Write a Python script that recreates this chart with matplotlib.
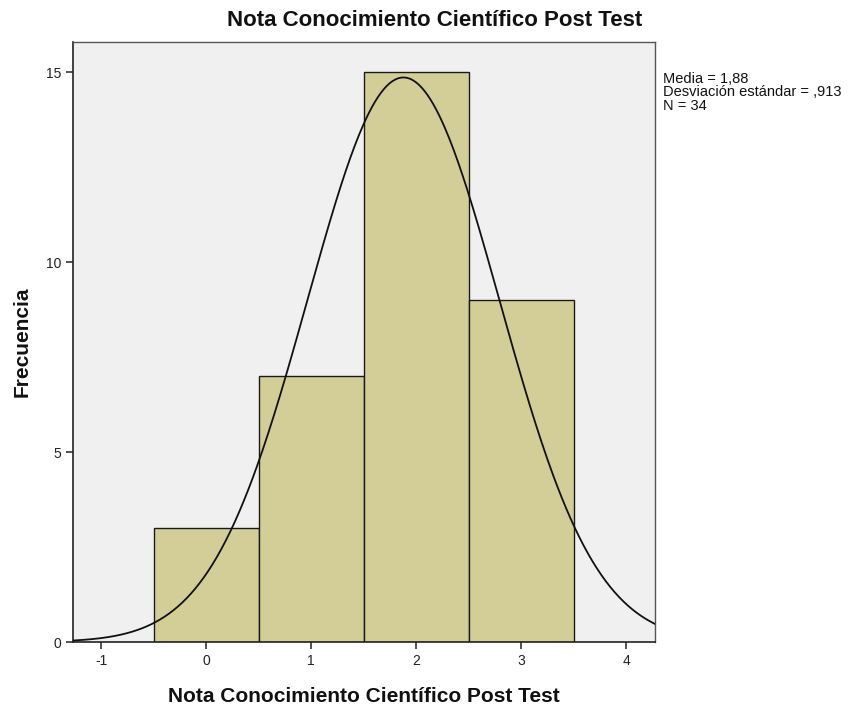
import numpy as np
import matplotlib
matplotlib.use("Agg")
import matplotlib.pyplot as plt

plt.rcParams['font.family'] = ['Liberation Sans', 'DejaVu Sans']
plt.rcParams['axes.unicode_minus'] = False

values = [0, 1, 2, 3]
counts = [3, 7, 15, 9]
mean = 1.88
std = 0.913
n = 34
title = "Nota Conocimiento Científico Post Test"
xlabel = "Nota Conocimiento Científico Post Test"
ylabel = "Frecuencia"
xticks = [-1, 0, 1, 2, 3, 4]
yticks = [0, 5, 10, 15]

fig = plt.figure(figsize=(8.57, 7.10), dpi=100)
ax = fig.add_axes([73/857, 1-642/710, (655-73)/857, (642-42)/710])
ax.set_facecolor('#F0F0F0')

ax.bar(values, counts, width=1.0, color='#D3CE98', edgecolor='#1a1a1a', linewidth=1.0, zorder=2)

xs = np.linspace(-1.27, 4.28, 400)
ys = n * 1.0 * np.exp(-0.5 * ((xs - mean) / std) ** 2) / (std * np.sqrt(2 * np.pi))
ax.plot(xs, ys, color='#111111', linewidth=1.3, zorder=3)

ax.set_xlim(-1.267, 4.276)
ax.set_ylim(0, 15.79)
ax.set_xticks(xticks)
ax.set_yticks(yticks)
ax.tick_params(direction='out', length=5, width=1.2, colors='#333333', labelsize=10, labelcolor='#222222')
for s in ['left', 'bottom']:
    ax.spines[s].set_color('#222222')
    ax.spines[s].set_linewidth(1.2)
for s in ['top', 'right']:
    ax.spines[s].set_color('#555555')
    ax.spines[s].set_linewidth(1.0)

fig.text(435/857, 1-20/710, title, ha='center', va='center', fontsize=16, fontweight='bold', color='#111111')
ax.set_xlabel(xlabel, fontsize=15, fontweight='bold', color='#111111', labelpad=14)
ax.set_ylabel(ylabel, fontsize=15, fontweight='bold', color='#111111', labelpad=10)

fig.text(663/857, 1-72/710, f"Media = 1,88\nDesviación estándar = ,913\nN = {n}",
         ha='left', va='top', fontsize=10.5, color='#111111', linespacing=0.95)

fig.savefig('out.png', dpi=100)
